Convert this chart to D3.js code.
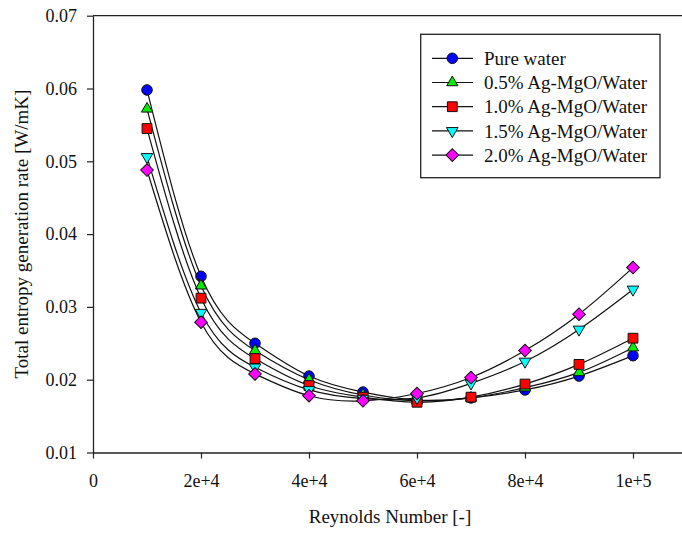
<!DOCTYPE html>
<html>
<head>
<meta charset="utf-8">
<script src="https://cdn.jsdelivr.net/npm/d3@7"></script>
<style>
  html, body { margin: 0; padding: 0; background: #fff; }
  svg { display: block; }
  text { font-family: "Liberation Serif", "Times New Roman", serif; fill: #111; }
</style>
</head>
<body>
<svg id="chart" width="682" height="536"></svg>
<script>
// ---- data ----
const reynolds = [10000, 20000, 30000, 40000, 50000, 60000, 70000, 80000, 90000, 100000];
const pureWater = [0.0598, 0.0342, 0.0250, 0.0205, 0.0183, 0.0172, 0.0175, 0.0186, 0.0205, 0.0233];
const agMgO05  = [0.0572, 0.0329, 0.0240, 0.0200, 0.0179, 0.0171, 0.0175, 0.0189, 0.0210, 0.0244];
const agMgO10  = [0.0545, 0.0312, 0.0229, 0.0192, 0.0176, 0.0169, 0.0176, 0.0194, 0.0221, 0.0257];
const agMgO15  = [0.0506, 0.0292, 0.0217, 0.0186, 0.0174, 0.0175, 0.0195, 0.0225, 0.0269, 0.0324];
const agMgO20  = [0.0488, 0.0279, 0.0208, 0.0178, 0.0171, 0.0181, 0.0203, 0.0240, 0.0290, 0.0354];
const seriesNames = ["Pure water", "0.5% Ag-MgO/Water", "1.0% Ag-MgO/Water", "1.5% Ag-MgO/Water", "2.0% Ag-MgO/Water"];
const xTickValues = [0, 20000, 40000, 60000, 80000, 100000];
const xTickLabels = ["0", "2e+4", "4e+4", "6e+4", "8e+4", "1e+5"];
const yTickValues = [0.01, 0.02, 0.03, 0.04, 0.05, 0.06, 0.07];
const yTickLabels = ["0.01", "0.02", "0.03", "0.04", "0.05", "0.06", "0.07"];
const xTitle = "Reynolds Number [-]";
const yTitle = "Total entropy generation rate [W/mK]";

// ---- styles ----
const seriesValues = [pureWater, agMgO05, agMgO10, agMgO15, agMgO20];
const colors = ["#0000ff", "#00ee00", "#ff0000", "#00ffff", "#ff00ff"];
const symbolDefs = [
  {type: d3.symbolCircle, size: 88, rot: 0},
  {type: d3.symbolTriangle, size: 54, rot: 0},
  {type: d3.symbolSquare, size: 96, rot: 0},
  {type: d3.symbolTriangle, size: 58, rot: 180},
  {type: d3.symbolSquare, size: 80, rot: 45}
];

const svg = d3.select("#chart");
const pL = 93, pR = 687, pT = 15.7, pB = 452.5;

const x = d3.scaleLinear().domain([0, 110000]).range([pL, pR]);
const y = d3.scaleLinear().domain([0.01, 0.07]).range([pB, pT]);

// frame
const frameColor = "#222";
svg.append("line").attr("x1", pL).attr("x2", pR).attr("y1", pT).attr("y2", pT)
  .attr("stroke", frameColor).attr("stroke-width", 1.3);
svg.append("line").attr("x1", pR).attr("x2", pR).attr("y1", pT).attr("y2", pB)
  .attr("stroke", frameColor).attr("stroke-width", 1.3);

// axes
const xAxis = d3.axisBottom(x).tickValues(xTickValues)
  .tickFormat((d, i) => xTickLabels[i]).tickSizeInner(6).tickSizeOuter(0).tickPadding(16);
const gx = svg.append("g").attr("transform", `translate(0,${pB})`).call(xAxis);
gx.selectAll("text").attr("font-size", 18).attr("font-family", '"Liberation Serif", serif').attr("fill", "#111");

const yAxis = d3.axisLeft(y).tickValues(yTickValues)
  .tickFormat((d, i) => yTickLabels[i]).tickSizeInner(6).tickSizeOuter(0).tickPadding(10);
const gy = svg.append("g").attr("transform", `translate(${pL},0)`).call(yAxis);
gy.selectAll("text").attr("font-size", 18).attr("font-family", '"Liberation Serif", serif').attr("fill", "#111");

[gx, gy].forEach(g => {
  g.select(".domain").attr("stroke", frameColor).attr("stroke-width", 1.3);
  g.selectAll(".tick line").attr("stroke", frameColor).attr("stroke-width", 1.2);
});

// titles
svg.append("text").attr("x", (pL + pR) / 2).attr("y", 523)
  .attr("text-anchor", "middle").attr("font-size", 19).text(xTitle);
svg.append("text").attr("transform", `translate(28,${(pT + pB) / 2}) rotate(-90)`)
  .attr("text-anchor", "middle").attr("font-size", 19).text(yTitle);

// series
const line = d3.line().x((d, i) => x(reynolds[i])).y(d => y(d)).curve(d3.curveNatural);
seriesValues.forEach((vals, s) => {
  const g = svg.append("g");
  g.append("path").attr("d", line(vals)).attr("fill", "none")
    .attr("stroke", "#111").attr("stroke-width", 1.2);
  const sym = d3.symbol().type(symbolDefs[s].type).size(symbolDefs[s].size);
  g.selectAll("path.m").data(vals).join("path").attr("class", "m")
    .attr("d", sym)
    .attr("transform", (d, i) => `translate(${x(reynolds[i])},${y(d)}) rotate(${symbolDefs[s].rot})`)
    .attr("fill", colors[s]).attr("stroke", "#111").attr("stroke-width", 1);
});

// legend
const lg = svg.append("g");
lg.append("rect").attr("x", 420.7).attr("y", 34.3).attr("width", 239.3).attr("height", 143.4)
  .attr("fill", "#fff").attr("stroke", "#222").attr("stroke-width", 1.3);
seriesNames.forEach((name, s) => {
  const cy = 58.3 + s * 24.2;
  lg.append("line").attr("x1", 432).attr("x2", 473).attr("y1", cy).attr("y2", cy)
    .attr("stroke", "#111").attr("stroke-width", 1.2);
  const sym = d3.symbol().type(symbolDefs[s].type).size(symbolDefs[s].size);
  lg.append("path").attr("d", sym)
    .attr("transform", `translate(452.3,${cy}) rotate(${symbolDefs[s].rot})`)
    .attr("fill", colors[s]).attr("stroke", "#111").attr("stroke-width", 1);
  lg.append("text").attr("x", 484).attr("y", cy).attr("dy", "0.35em")
    .attr("font-size", 19).text(name);
});
</script>
</body>
</html>
